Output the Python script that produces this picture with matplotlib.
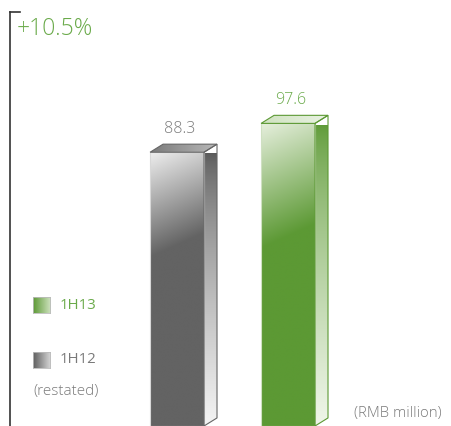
import matplotlib
matplotlib.use('Agg')
import matplotlib.pyplot as plt
import numpy as np
from matplotlib.patches import Polygon
from matplotlib.colors import to_rgb

periods = ['1H12', '1H13']
values = [88.3, 97.6]
value_labels = ['88.3', '97.6']
growth_label = '+10.5%'
unit_label = '(RMB million)'
restated_note = '(restated)'

GREEN = '#6aaa4a'
GREY_TXT = '#7a7a7a'

plt.rcParams['font.family'] = ['Open Sans', 'DejaVu Sans']

fig = plt.figure(figsize=(4.51, 4.26), dpi=100)
ax = fig.add_axes([0, 0, 1, 1])
ax.axis('off')

width = 0.486
dx, dy = 0.117, 2.6


def grad_fill(ax, verts, c0, c1, fn, edge=None, n=200):
    verts = np.asarray(verts)
    x0, y0 = verts.min(axis=0)
    x1, y1 = verts.max(axis=0)
    X, Y = np.meshgrid(np.linspace(x0, x1, n), np.linspace(y1, y0, n))
    s = np.clip(fn(X, Y), 0, 1)[..., None]
    img = (1 - s) * np.array(to_rgb(c0)) + s * np.array(to_rgb(c1))
    poly = Polygon(verts, closed=True, facecolor='none',
                   edgecolor=edge if edge else 'none', lw=0.8, zorder=3)
    ax.add_patch(poly)
    im = ax.imshow(img, extent=(x0, x1, y0, y1), aspect='auto',
                   interpolation='bilinear', zorder=2)
    im.set_clip_path(poly)


styles = {
    '1H12': dict(front=('#eeeeee', '#636363', 105), side=('#585858', '#f4f4f4'),
                 top=('#7a7a7a', '#b8b8b8'), edge='#d8d8d8', sedge='#666666'),
    '1H13': dict(front=('#e6efdd', '#5c9934', 125), side=('#5c9934', '#f0f6ea'),
                 top=('#cfe2c0', '#e9f2e2'), edge='#cfe0c2', sedge='#5c9934'),
}

for i, (p, v) in enumerate(zip(periods, values)):
    st = styles[p]
    xl, xr = i - width / 2, i + width / 2
    c0, c1, zone = st['front']
    # front face: diagonal light-to-dark near the top
    grad_fill(ax, [(xl, 0), (xr, 0), (xr, v), (xl, v)], c0, c1,
              lambda X, Y, v=v, xl=xl, zone=zone: ((v - Y) * 3.1 + (X - xl) * 111 * 0.45) / zone,
              edge=st['edge'])
    # side face
    s0, s1 = st['side']
    grad_fill(ax, [(xr, 0), (xr + dx, dy), (xr + dx, v + dy), (xr, v)], s0, s1,
              lambda X, Y, v=v: ((v - Y) / v) ** 0.7, edge=st['sedge'])
    # top face
    t0, t1 = st['top']
    grad_fill(ax, [(xl, v), (xr, v), (xr + dx, v + dy), (xl + dx, v + dy)], t0, t1,
              lambda X, Y, xl=xl: (X - xl) / (width + dx), edge=st['sedge'])
    col = GREEN if p == '1H13' else GREY_TXT
    ax.text(i + 0.02, v + dy + 2.4, value_labels[i], ha='center', va='bottom',
            fontsize=11.5, color=col, fontweight='light')

ax.set_xlim(-1.595, 2.468)
ax.set_ylim(0, 137.4)

# left axis bracket
fig.add_artist(plt.Line2D([0.0222, 0.0222], [0.0, 0.972], color='#333333', lw=1.2))
fig.add_artist(plt.Line2D([0.0222, 0.0443], [0.972, 0.972], color='#333333', lw=1.2))

fig.text(0.036, 0.933, growth_label, fontsize=16.5, color=GREEN, va='center', ha='left',
         fontweight='light')

# legend swatches
for p, bottom, c_a, c_b, tcol in [('1H13', 0.265, '#5c9934', '#cfe2c0', GREEN),
                                   ('1H12', 0.136, '#5e5e5e', '#d8d8d8', GREY_TXT)]:
    lax = fig.add_axes([0.0732, bottom, 0.0377, 0.0376])
    g = np.linspace(0, 1, 50)[None, :, None]
    lax.imshow((1 - g) * np.array(to_rgb(c_a)) + g * np.array(to_rgb(c_b)),
               aspect='auto', extent=(0, 1, 0, 1))
    lax.set_xticks([])
    lax.set_yticks([])
    for sp in lax.spines.values():
        sp.set_color('#bbbbbb')
        sp.set_linewidth(0.6)
    fig.text(0.133, bottom + 0.019, p, fontsize=10.8, color=tcol, va='center', ha='left')

fig.text(0.073, 0.08, restated_note, fontsize=11, color=GREY_TXT, va='center', ha='left',
         fontweight='light')
fig.text(0.785, 0.03, unit_label, fontsize=10.7, color=GREY_TXT, va='center', ha='left',
         fontweight='light')

fig.savefig('out.png', dpi=100)
